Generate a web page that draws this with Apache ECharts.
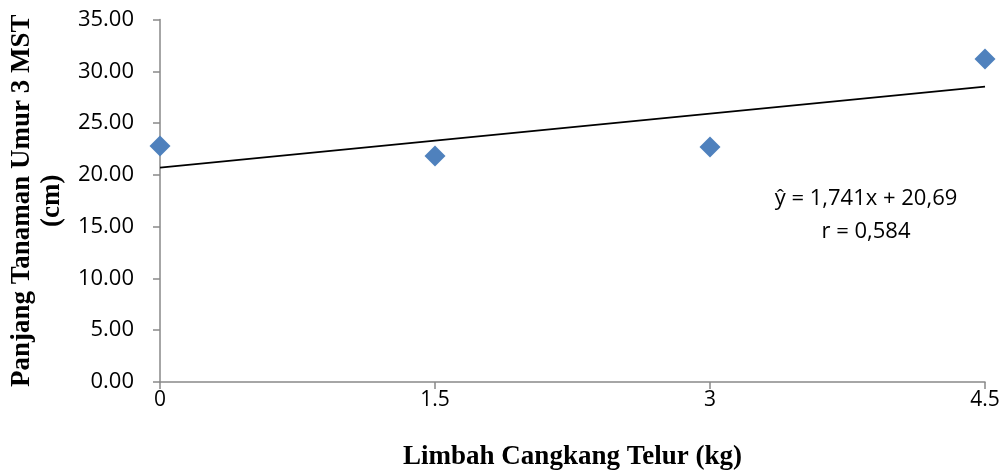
<!DOCTYPE html>
<html><head><meta charset="utf-8">
<script src="https://cdn.jsdelivr.net/npm/echarts@6/dist/echarts.min.js"></script>
<style>html,body{margin:0;padding:0;background:#fff}#c{width:1006px;height:473px}</style>
</head><body><div id="c"></div>
<script>
const xValues = [0, 1.5, 3, 4.5];
const yValues = [22.79, 21.82, 22.69, 31.19];
const xTicks = [0, 1.5, 3, 4.5];
const slope = 1.741;
const intercept = 20.69;
const eqText = 'ŷ = 1,741x + 20,69';
const rText = 'r = 0,584';
const xTitle = 'Limbah Cangkang Telur (kg)';
const yTitle = 'Panjang Tanaman Umur 3 MST\n(cm)';

const chart = echarts.init(document.getElementById('c'), null, {renderer: 'canvas'});
const serif = '"Liberation Serif", "Times New Roman", serif';
const sans = '"Open Sans", sans-serif';
const trend = [[xTicks[0], intercept + slope * xTicks[0]], [xTicks[xTicks.length-1], intercept + slope * xTicks[xTicks.length-1]]];
chart.setOption({
  animation: false,
  grid: {left: 160, right: 21, top: 19.5, bottom: 91, containLabel: false, outerBoundsMode: 'none'},
  xAxis: {
    type: 'value', min: 0, max: 4.5, interval: 1.5,
    axisLine: {show: true, onZero: false, lineStyle: {color: '#898989', width: 1.5}},
    axisTick: {show: true, length: 7, lineStyle: {color: '#898989', width: 1.5}},
    splitLine: {show: false},
    axisLabel: {color: '#000', fontSize: 21, fontFamily: sans, margin: 8,
      formatter: v => String(v)},
    name: xTitle, nameLocation: 'middle', nameGap: 62,
    nameTextStyle: {color: '#000', fontSize: 27, fontWeight: 'bold', fontFamily: serif}
  },
  yAxis: {
    type: 'value', min: 0, max: 35, interval: 5,
    axisLine: {show: true, lineStyle: {color: '#898989', width: 1.5}},
    axisTick: {show: true, inside: false, length: 7, lineStyle: {color: '#898989', width: 1.5}},
    splitLine: {show: false},
    axisLabel: {color: '#000', fontSize: 22, fontFamily: sans, margin: 26,
      formatter: v => v.toFixed(2)},
    name: yTitle, nameLocation: 'middle', nameGap: 93, nameRotate: 90,
    nameTextStyle: {color: '#000', fontSize: 27, fontWeight: 'bold', lineHeight: 30, fontFamily: serif, align: 'center'}
  },
  series: [
    {type: 'line', data: trend, symbol: 'none', lineStyle: {color: '#000', width: 1.8}, z: 2, silent: true},
    {type: 'scatter', data: xValues.map((x, i) => [x, yValues[i]]), symbol: 'diamond', symbolSize: 21,
      itemStyle: {color: '#4F81BD', opacity: 1}, z: 3}
  ],
  graphic: [
    {type: 'text', x: 866, y: 215, style: {text: eqText + '\n' + rText, font: '22px ' + sans, fill: '#000', align: 'center', verticalAlign: 'middle', lineHeight: 33}}
  ]
});
</script></body></html>
